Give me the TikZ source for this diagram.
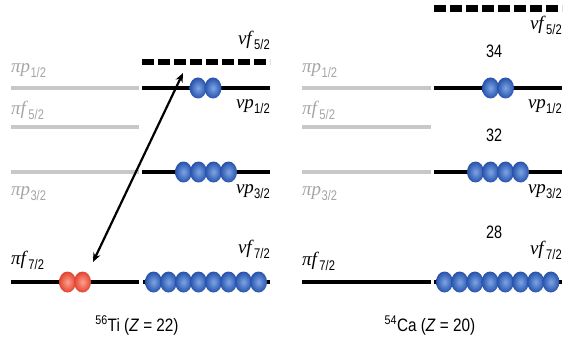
\documentclass[tikz,border=0pt]{standalone}
\usepackage{fontspec}
\setmainfont{Liberation Serif}
\setsansfont{Liberation Sans}
\usetikzlibrary{arrows.meta,shapes.geometric}
\definecolor{lvlgray}{RGB}{200,200,200}
\definecolor{txtgray}{RGB}{165,165,165}
\definecolor{blueIn}{RGB}{125,165,228}
\definecolor{blueOut}{RGB}{38,82,172}
\definecolor{redIn}{RGB}{252,160,140}
\definecolor{redOut}{RGB}{226,68,48}
% orbital label: italic letters with a condensed sans subscript
\newcommand\orb[3]{\textit{#1#2}\kern0.3pt\raisebox{-5pt}{\sffamily\fontsize{14}{14}\selectfont\scalebox{0.8}[1]{#3}}}
\begin{document}
\begin{tikzpicture}[x=1pt,y=-1pt,
  lvl/.style={line width=3.8pt},
  graylvl/.style={lvl,draw=lvlgray},
  blacklvl/.style={lvl,draw=black},
  emptylvl/.style={line width=6.5pt,draw=black,dash pattern=on 11.7pt off 4.3pt},
  nball/.style={ellipse,minimum width=17pt,minimum height=21pt,inner sep=0pt,
    shading=radial,inner color=blueIn,outer color=blueOut},
  pball/.style={nball,inner color=redIn,outer color=redOut},
  lbl/.style={inner sep=0pt,font=\fontsize{19}{19}\selectfont},
  glbl/.style={lbl,text=txtgray},
  num/.style={inner sep=0pt,font=\sffamily\fontsize{18}{18}\selectfont},
  transfer/.style={line width=2.2pt,{Stealth[length=9pt,width=7.5pt]}-{Stealth[length=9pt,width=7.5pt]}}]
\useasboundingbox (0,0) rectangle (569,339);

% ---------------- 56Ti ----------------
\coordinate (Ta1) at (11,88);  \coordinate (Ta2) at (139,88);
\coordinate (Tb1) at (11,127); \coordinate (Tb2) at (139,127);
\coordinate (Tc1) at (11,172); \coordinate (Tc2) at (139,172);
\coordinate (Td1) at (11,282); \coordinate (Td2) at (139,282);
\draw[graylvl] (Ta1) -- (Ta2);
\draw[graylvl] (Tb1) -- (Tb2);
\draw[graylvl] (Tc1) -- (Tc2);
\draw[blacklvl] (Td1) -- (Td2);

\coordinate (Tn0a) at (142,62);  \coordinate (Tn0b) at (270,62);
\coordinate (Tn1a) at (142,88);  \coordinate (Tn1b) at (270,88);
\coordinate (Tn2a) at (142,172); \coordinate (Tn2b) at (270,172);
\coordinate (Tn3a) at (143,282); \coordinate (Tn3b) at (270,282);
\draw[emptylvl] (Tn0a) -- (Tn0b);
\draw[blacklvl] (Tn1a) -- (Tn1b);
\draw[blacklvl] (Tn2a) -- (Tn2b);
\draw[blacklvl] (Tn3a) -- (Tn3b);

\node[glbl,anchor=base west] (Tlp1) at (11,73)  {\orb{π}{p}{1/2}};
\node[glbl,anchor=base west] (Tlf5) at (11,115) {\orb{π}{f}{5/2}};
\node[glbl,anchor=base west] (Tlp3) at (11,195) {\orb{π}{p}{3/2}};
\node[lbl,anchor=base west]  (Tlf7) at (11,264) {\orb{π}{f}{7/2}};
\node[lbl,anchor=base east] (Tnf5) at (270,45)  {\orb{ν}{f}{5/2}};
\node[lbl,anchor=base east] (Tnp1) at (270,109) {\orb{ν}{p}{1/2}};
\node[lbl,anchor=base east] (Tnp3) at (270,193) {\orb{ν}{p}{3/2}};
\node[lbl,anchor=base east] (Tnf7) at (270,253) {\orb{ν}{f}{7/2}};

\foreach \x [count=\i] in {198,213} \node[nball] (Tb1n\i) at (\x,88) {};
\foreach \x [count=\i] in {183.5,198.5,213.5,228.5} \node[nball] (Tb3n\i) at (\x,172) {};
\foreach \i in {0,...,7} \node[nball] (Tb7n\i) at ({153.5+15*\i},282) {};
\foreach \x [count=\i] in {67.5,82.5} \node[pball] (Tpf\i) at (\x,282) {};

\coordinate (arrBot) at (93,262);
\coordinate (arrTop) at (183,73);
\draw[transfer] (arrBot) -- (arrTop);

\node[num,anchor=base] (capTi) at (137,331)
  {\scalebox{0.85}[1]{\textsuperscript{56}Ti (\textit{Z} = 22)}};

% ---------------- 54Ca ----------------
\coordinate (Ca1) at (302,88);  \coordinate (Ca2) at (431,88);
\coordinate (Cb1) at (302,127); \coordinate (Cb2) at (431,127);
\coordinate (Cc1) at (302,172); \coordinate (Cc2) at (431,172);
\coordinate (Cd1) at (302,282); \coordinate (Cd2) at (431,282);
\draw[graylvl] (Ca1) -- (Ca2);
\draw[graylvl] (Cb1) -- (Cb2);
\draw[graylvl] (Cc1) -- (Cc2);
\draw[blacklvl] (Cd1) -- (Cd2);

\coordinate (Cn0a) at (434,8.5); \coordinate (Cn0b) at (562,8.5);
\coordinate (Cn1a) at (434,88);  \coordinate (Cn1b) at (562,88);
\coordinate (Cn2a) at (434,172); \coordinate (Cn2b) at (562,172);
\coordinate (Cn3a) at (434,282); \coordinate (Cn3b) at (562,282);
\draw[emptylvl] (Cn0a) -- (Cn0b);
\draw[blacklvl] (Cn1a) -- (Cn1b);
\draw[blacklvl] (Cn2a) -- (Cn2b);
\draw[blacklvl] (Cn3a) -- (Cn3b);

\node[glbl,anchor=base west] (Clp1) at (302,73)  {\orb{π}{p}{1/2}};
\node[glbl,anchor=base west] (Clf5) at (302,115) {\orb{π}{f}{5/2}};
\node[glbl,anchor=base west] (Clp3) at (302,195) {\orb{π}{p}{3/2}};
\node[lbl,anchor=base west]  (Clf7) at (302,265) {\orb{π}{f}{7/2}};
\node[lbl,anchor=base east] (Cnf5) at (562,30)  {\orb{ν}{f}{5/2}};
\node[lbl,anchor=base east] (Cnp1) at (562,109) {\orb{ν}{p}{1/2}};
\node[lbl,anchor=base east] (Cnp3) at (562,193) {\orb{ν}{p}{3/2}};
\node[lbl,anchor=base east] (Cnf7) at (562,254) {\orb{ν}{f}{7/2}};

\node[num,anchor=base] (g34) at (494,58)  {\scalebox{0.8}[1]{34}};
\node[num,anchor=base] (g32) at (494,142) {\scalebox{0.8}[1]{32}};
\node[num,anchor=base] (g28) at (494,238) {\scalebox{0.8}[1]{28}};

\foreach \x [count=\i] in {490.5,505.5} \node[nball] (Cb1n\i) at (\x,88) {};
\foreach \x [count=\i] in {475.5,490.5,505.5,520.5} \node[nball] (Cb3n\i) at (\x,172) {};
\foreach \i in {0,...,7} \node[nball] (Cb7n\i) at ({444.5+15.2*\i},282) {};

\node[num,anchor=base] (capCa) at (430,331)
  {\scalebox{0.85}[1]{\textsuperscript{54}Ca (\textit{Z} = 20)}};
\end{tikzpicture}
\end{document}
